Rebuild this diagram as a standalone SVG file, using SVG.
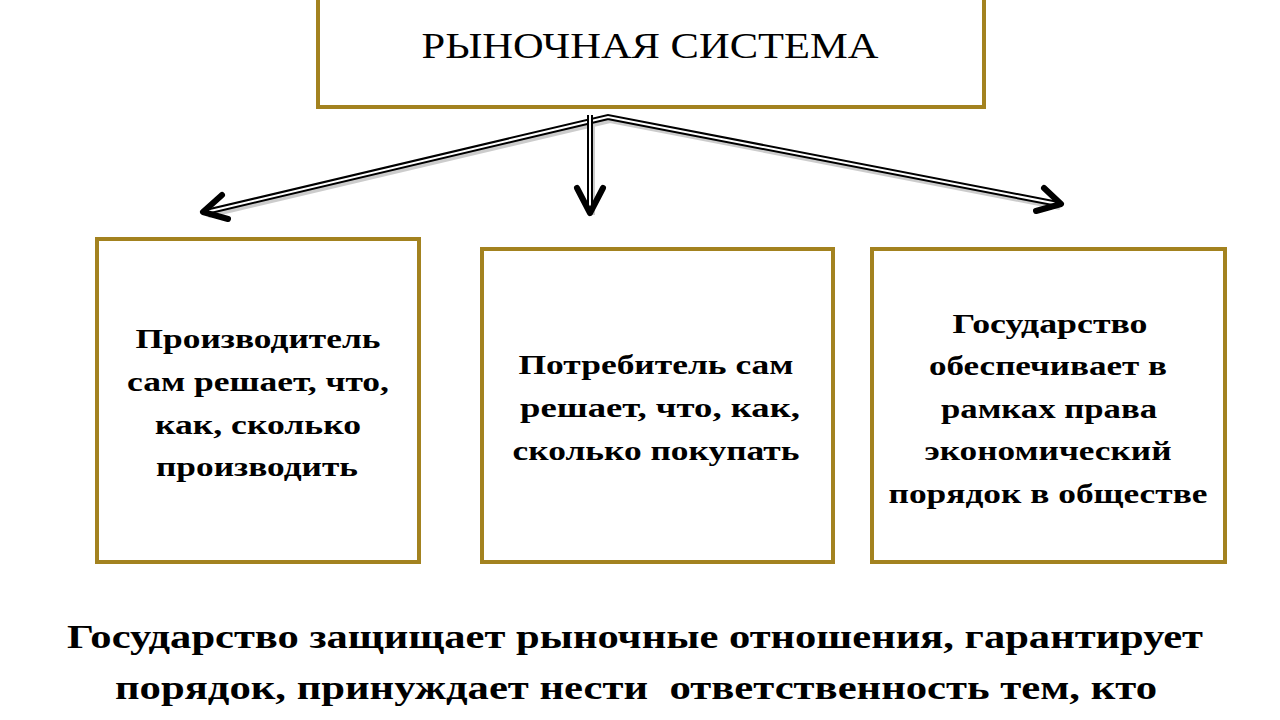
<svg xmlns="http://www.w3.org/2000/svg" width="1280" height="720" viewBox="0 0 1280 720">
<style>
.box{fill:#fff;stroke:#a3821f;stroke-width:4}
.t{font-family:"Liberation Serif","DejaVu Serif",serif;fill:#000;text-anchor:middle}
.b{font-weight:bold;font-size:27px}
.outer{fill:none;stroke:#000;stroke-width:6;stroke-linejoin:miter}
.inner{fill:none;stroke:#fff;stroke-width:2;stroke-linejoin:miter}
.head{fill:none;stroke:#000;stroke-width:6;stroke-linecap:round;stroke-linejoin:round}
</style>
<rect width="1280" height="720" fill="#fff"/>
<g id="top">
<rect class="box" x="318" y="-10" width="666" height="117"/>
<text class="t" x="650" y="58" font-size="36" textLength="457" lengthAdjust="spacingAndGlyphs">РЫНОЧНАЯ СИСТЕМА</text>
</g>
<g id="connectors">
<g opacity="0.2" transform="translate(2,3)">
<path class="outer" d="M608 117 L206 212 M608 117 L1058 204 M590 115 L590 212" stroke="#888"/>
</g>
<path class="outer" d="M206 212 L608 117 L1058 204"/>
<path class="inner" d="M206 212 L608 117 L1058 204"/>
<path class="outer" d="M590 115 L590 212"/>
<path class="inner" d="M590 115 L590 210"/>
<path class="head" d="M222 195 L203 212 L228 219"/>
<path class="head" d="M1044 188 L1061 204 L1036 211"/>
<path class="head" d="M577 188 L590 213 L603 188"/>
</g>
<g id="n1">
<rect class="box" x="97" y="239" width="322" height="323"/>
<text class="t b" x="258" y="348" textLength="245" lengthAdjust="spacingAndGlyphs">Производитель</text>
<text class="t b" x="258" y="391" textLength="262" lengthAdjust="spacingAndGlyphs">сам решает, что,</text>
<text class="t b" x="258" y="434" textLength="206" lengthAdjust="spacingAndGlyphs">как, сколько</text>
<text class="t b" x="257" y="476" textLength="202" lengthAdjust="spacingAndGlyphs">производить</text>
</g>
<g id="n2">
<rect class="box" x="482" y="249" width="351" height="313"/>
<text class="t b" x="656" y="374" textLength="275" lengthAdjust="spacingAndGlyphs">Потребитель сам</text>
<text class="t b" x="660" y="417" textLength="280" lengthAdjust="spacingAndGlyphs">решает, что, как,</text>
<text class="t b" x="656" y="460" textLength="287" lengthAdjust="spacingAndGlyphs">сколько покупать</text>
</g>
<g id="n3">
<rect class="box" x="872" y="249" width="353" height="313"/>
<text class="t b" x="1050" y="333" textLength="195" lengthAdjust="spacingAndGlyphs">Государство</text>
<text class="t b" x="1048" y="375" textLength="238" lengthAdjust="spacingAndGlyphs">обеспечивает в</text>
<text class="t b" x="1049" y="418" textLength="216" lengthAdjust="spacingAndGlyphs">рамках права</text>
<text class="t b" x="1048" y="460" textLength="247" lengthAdjust="spacingAndGlyphs">экономический</text>
<text class="t b" x="1048" y="503" textLength="319" lengthAdjust="spacingAndGlyphs">порядок в обществе</text>
</g>
<g id="footer">
<text class="t" x="635" y="648" font-size="34" font-weight="bold" textLength="1136" lengthAdjust="spacingAndGlyphs">Государство защищает рыночные отношения, гарантирует</text>
<text class="t" x="636" y="699" font-size="34" font-weight="bold" textLength="1042" lengthAdjust="spacingAndGlyphs" xml:space="preserve">порядок, принуждает нести  ответственность тем, кто</text>
</g>
</svg>
